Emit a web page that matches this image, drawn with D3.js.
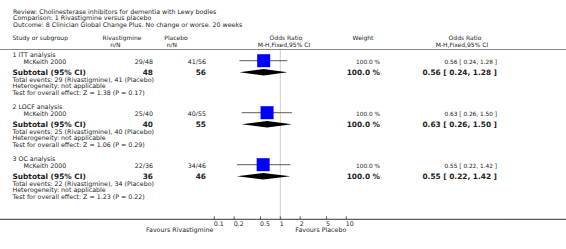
<!DOCTYPE html>
<html lang="en">
<head>
<meta charset="utf-8">
<script src="https://cdn.jsdelivr.net/npm/d3@7"></script>
<style>
  body { margin: 0; background: #fff; }
  text { font-family: "DejaVu Sans", sans-serif; fill: #222; }
</style>
</head>
<body>
<div id="chart"></div>
<script>
// chart data
var titleLines = [
  "Review:  Cholinesterase inhibitors for dementia with Lewy bodies",
  "Comparison:  1 Rivastigmine versus placebo",
  "Outcome:  8 Clinician Global Change Plus. No change or worse. 20 weeks"
];
var groups = ["1 ITT analysis", "2 LOCF analysis", "3 OC analysis"];
var studies = ["McKeith 2000", "McKeith 2000", "McKeith 2000"];
var rivaNN = ["29/48", "25/40", "22/36"];
var placNN = ["41/56", "40/55", "34/46"];
var rivaTotal = [48, 40, 36];
var placTotal = [56, 55, 46];
var rivaEvents = [29, 25, 22];
var placEvents = [41, 40, 34];
var oddsRatio = [0.56, 0.63, 0.55];
var ciLow = [0.24, 0.26, 0.22];
var ciHigh = [1.28, 1.50, 1.42];
var weights = ["100.0 %", "100.0 %", "100.0 %"];
var zValues = ["1.38", "1.06", "1.23"];
var pValues = ["0.17", "0.29", "0.22"];
var tickValues = [0.1, 0.2, 0.5, 1, 2, 5, 10];
var tickLabels = ["0.1", "0.2", "0.5", "1", "2", "5", "10"];

var width = 566, height = 249;

var svg = d3.select("#chart").append("svg")
  .attr("width", width)
  .attr("height", height);

var x = d3.scaleLog().domain([0.1, 10]).range([214.3, 346.3]);

var fs = 6.3, fsBold = 7.4, fsHead = 6.0;
function txt(xp, yp, s, opts) {
  opts = opts || {};
  return svg.append("text")
    .attr("x", xp).attr("y", yp)
    .attr("dy", "0.35em")
    .attr("text-anchor", opts.anchor || "start")
    .style("font-size", (opts.size || fs) + "px")
    .style("font-weight", opts.bold ? "bold" : "normal")
    .text(s);
}

// title block
titleLines.forEach(function (t, i) {
  txt(13, 12 + i * 6.2, t);
});

// header row
var h1 = 38.0, h2 = 44.6;
txt(12.5, h1, "Study or subgroup", {size: fsHead});
txt(122, h1, "Rivastigmine", {anchor: "middle", size: fsHead});
txt(120.5, h2, "n/N", {anchor: "end", size: fsHead});
txt(176, h1, "Placebo", {anchor: "middle", size: fsHead});
txt(177, h2, "n/N", {anchor: "end", size: fsHead});
txt(286, h1, "Odds Ratio", {anchor: "middle", size: fsHead});
txt(284, h2, "M-H,Fixed,95% CI", {anchor: "middle", size: fsHead});
txt(363, h1, "Weight", {anchor: "middle", size: fsHead});
txt(465, h1, "Odds Ratio", {anchor: "middle", size: fsHead});
txt(462, h2, "M-H,Fixed,95% CI", {anchor: "middle", size: fsHead});

svg.append("line")
  .attr("x1", 0).attr("x2", width)
  .attr("y1", 49.5).attr("y2", 49.5)
  .style("stroke", "#888").style("stroke-width", 1.2);

// line of no effect
svg.append("line")
  .attr("x1", x(1)).attr("x2", x(1))
  .attr("y1", 50).attr("y2", 219)
  .style("stroke", "#ccc").style("stroke-width", 1);

// groups
groups.forEach(function (g, i) {
  var y0 = 55 + 52 * i;
  var yStudy = y0 + 6.5;
  var ySub = y0 + 17.5;

  txt(12.5, y0, g);
  txt(23.5, yStudy, studies[i]);
  txt(153, yStudy, rivaNN[i], {anchor: "end"});
  txt(206, yStudy, placNN[i], {anchor: "end"});
  txt(380, yStudy, weights[i], {anchor: "end", size: 5.8});
  txt(497, yStudy, oddsRatio[i].toFixed(2) + " [ " + ciLow[i].toFixed(2) + ", " + ciHigh[i].toFixed(2) + " ]", {anchor: "end", size: 5.8});

  // CI line + square
  svg.append("line")
    .attr("x1", x(ciLow[i])).attr("x2", x(ciHigh[i]))
    .attr("y1", yStudy - 0.8).attr("y2", yStudy - 0.8)
    .style("stroke", "#333").style("stroke-width", 0.8);
  svg.append("rect")
    .attr("x", x(oddsRatio[i]) - 6.5).attr("y", yStudy - 7.3)
    .attr("width", 13).attr("height", 13)
    .style("fill", "#0000ff");
  svg.append("line")
    .attr("x1", x(oddsRatio[i])).attr("x2", x(oddsRatio[i]))
    .attr("y1", yStudy - 2.3).attr("y2", yStudy + 0.7)
    .style("stroke", "#222").style("stroke-width", 0.6);

  // subtotal
  txt(12.5, ySub, "Subtotal (95% CI)", {bold: true, size: fsBold});
  txt(153, ySub, rivaTotal[i], {bold: true, size: fsBold, anchor: "end"});
  txt(206, ySub, placTotal[i], {bold: true, size: fsBold, anchor: "end"});
  txt(380, ySub, weights[i], {bold: true, size: fsBold, anchor: "end"});
  txt(497, ySub, oddsRatio[i].toFixed(2) + " [ " + ciLow[i].toFixed(2) + ", " + ciHigh[i].toFixed(2) + " ]", {bold: true, size: fsBold, anchor: "end"});

  var dy = ySub - 0.3;
  svg.append("path")
    .attr("d", "M" + x(ciLow[i]) + "," + dy +
               "L" + x(oddsRatio[i]) + "," + (dy - 3.2) +
               "L" + x(ciHigh[i]) + "," + dy +
               "L" + x(oddsRatio[i]) + "," + (dy + 3.2) + "Z")
    .style("fill", "#000");

  txt(12.5, y0 + 24.5, "Total events: " + rivaEvents[i] + " (Rivastigmine), " + placEvents[i] + " (Placebo)");
  txt(12.5, y0 + 31.2, "Heterogeneity: not applicable");
  txt(12.5, y0 + 37.8, "Test for overall effect: Z = " + zValues[i] + " (P = " + pValues[i] + ")");
});

// axis
var axisY = 219.3;
svg.append("line")
  .attr("x1", 0).attr("x2", width)
  .attr("y1", axisY).attr("y2", axisY)
  .style("stroke", "#333").style("stroke-width", 1);

var ticks = svg.selectAll(".tick").data(tickValues).enter().append("g")
  .attr("class", "tick")
  .attr("transform", function (d) { return "translate(" + x(d) + "," + axisY + ")"; });
ticks.append("line")
  .attr("y1", -3).attr("y2", 0)
  .style("stroke", "#333").style("stroke-width", 0.8);
ticks.append("text")
  .attr("x", -0.5).attr("y", 4.5)
  .attr("dy", "0.35em")
  .style("font-size", fs + "px")
  .text(function (d, i) { return tickLabels[i]; });

txt(x(0.1) - 1, 230, "Favours Rivastigmine", {anchor: "end"});
txt(x(10), 230, "Favours Placebo", {anchor: "end"});
</script>
</body>
</html>
